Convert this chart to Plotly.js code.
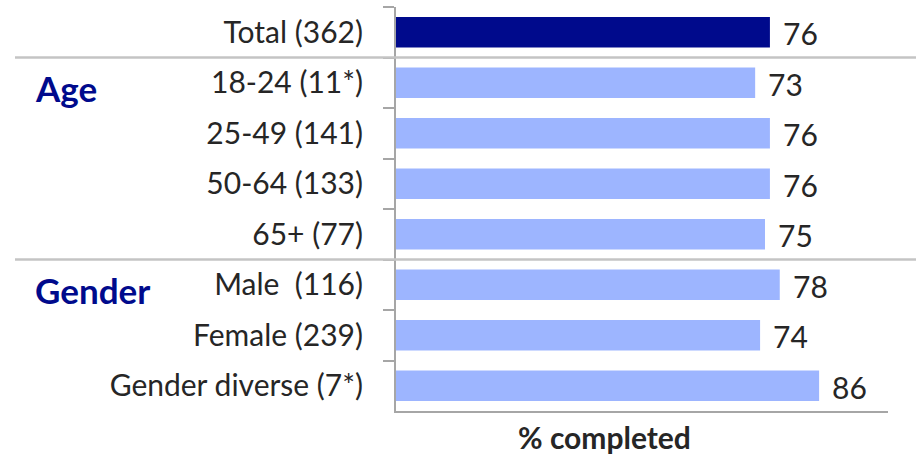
<!DOCTYPE html>
<html><head><meta charset="utf-8">
<script src="https://cdn.plot.ly/plotly-3.0.1.min.js"></script>
<style>body{margin:0;padding:0;background:#fff}#chart{width:917px;height:455px}</style>
</head><body><div id="chart"></div>
<script>
const categories = ["Total (362)", "18-24 (11*)", "25-49 (141)", "50-64 (133)", "65+ (77)", "Male  (116)", "Female (239)", "Gender diverse (7*)"];
const values = [76, 73, 76, 76, 75, 78, 74, 86];
const barColors = ["#000A8C", "#9DB5FF", "#9DB5FF", "#9DB5FF", "#9DB5FF", "#9DB5FF", "#9DB5FF", "#9DB5FF"];
const groupLabels = ["Age", "Gender"];
const groupRows = [1, 5];
const separators = [0.5, 4.5];
const axisTitle = "% completed";

const FONT = "Lato, 'Open Sans', sans-serif";
const L = 396, R = 29, W = 917, PW = W - L - R, PH = 404;

const trace = {
  type: "bar", orientation: "h",
  x: values, y: categories,
  marker: {color: barColors},
  hoverinfo: "skip"
};

const annotations = values.map((v, i) => ({
  x: v, y: categories[i], xref: "x", yref: "y",
  text: String(v), showarrow: false, xanchor: "left", xshift: 11, yshift: -1,
  font: {family: FONT, size: 30, color: "#262626"}
}));
groupLabels.forEach((g, k) => annotations.push({
  x: (33 - L) / PW, xref: "paper", y: categories[groupRows[k]], yref: "y",
  text: "<b>" + g + "</b>", showarrow: false, xanchor: "left", yshift: -5,
  font: {family: FONT, size: 35, color: "#000A8C"}
}));
annotations.push({
  x: (604 - L) / PW, xref: "paper", y: (411 - 437) / PH, yref: "paper", yanchor: "middle",
  text: "<b>" + axisTitle + "</b>", showarrow: false,
  font: {family: FONT, size: 30, color: "#262626"}
});

const shapes = separators.map(s => ({
  type: "line", xref: "paper", yref: "y",
  x0: (15 - L) / PW, x1: (916 - L) / PW, y0: s, y1: s,
  line: {color: "#C4C4C4", width: 2.5}
}));

const layout = {
  width: W, height: 455,
  margin: {l: L, r: R, t: 7, b: 44, pad: 0},
  paper_bgcolor: "#fff", plot_bgcolor: "#fff",
  showlegend: false, bargap: 0.4,
  xaxis: {range: [0, 100], showgrid: false, zeroline: false, showticklabels: false,
          showline: true, linecolor: "#A6A6A6", linewidth: 2, ticks: ""},
  yaxis: {type: "category", autorange: "reversed", showgrid: false, zeroline: false,
          showline: true, linecolor: "#A6A6A6", linewidth: 2,
          ticks: "outside", tickson: "boundaries", ticklen: 11, tickwidth: 2, tickcolor: "#A6A6A6",
          ticklabelstandoff: 25,
          tickfont: {family: FONT, size: 30, color: "#262626"}},
  annotations: annotations,
  shapes: shapes
};
Plotly.newPlot("chart", [trace], layout, {displayModeBar: false, staticPlot: true});
</script></body></html>
